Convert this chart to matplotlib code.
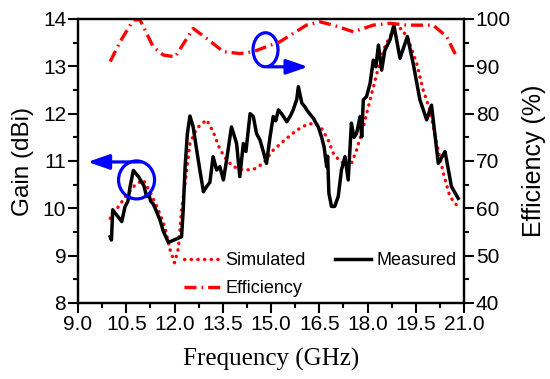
import matplotlib
matplotlib.use("Agg")
import matplotlib.pyplot as plt
from matplotlib.patches import Ellipse
from matplotlib.ticker import MultipleLocator, AutoMinorLocator

# ---- data ----
freq_meas = [10.0, 10.04, 10.08, 10.15, 10.25, 10.36, 10.46, 10.55, 10.62, 10.72,
             10.82, 10.90, 10.98, 11.05, 11.13, 11.2, 11.26, 11.33, 11.40, 11.55,
             11.65, 11.81, 12.22, 12.27, 12.33, 12.40, 12.48, 12.58, 12.69, 12.79,
             12.9, 13.0, 13.1, 13.2, 13.31, 13.41, 13.52, 13.62, 13.77, 13.85,
             13.93, 14.03, 14.14, 14.22, 14.35, 14.45, 14.55, 14.66, 14.76, 14.86,
             14.97, 15.07, 15.15, 15.23, 15.33, 15.49, 15.6, 15.69, 15.8, 15.85,
             15.96, 16.05, 16.11, 16.2, 16.32, 16.4, 16.47, 16.57, 16.65, 16.73,
             16.76, 16.8, 16.88, 16.98, 17.09, 17.19, 17.3, 17.4, 17.5, 17.58,
             17.66, 17.77, 17.82, 17.87, 17.97, 18.08, 18.18, 18.26, 18.34, 18.44,
             18.54, 18.7, 18.82, 19.01, 19.24, 19.42, 19.63, 19.84, 19.99, 20.2,
             20.41, 20.61, 20.82]
gain_meas = [9.40, 9.33, 9.97, 9.90, 9.82, 9.72, 10.03, 10.15, 10.46, 10.80,
             10.72, 10.65, 10.55, 10.48, 10.25, 10.30, 10.15, 10.10, 10.00, 9.75,
             9.52, 9.28, 9.40, 9.96, 10.88, 11.58, 11.95, 11.72, 11.23, 10.80,
             10.35, 10.46, 10.55, 11.09, 10.81, 10.88, 10.60, 11.02, 11.72, 11.55,
             11.37, 10.67, 11.37, 11.20, 12.0, 11.94, 11.58, 11.44, 11.20, 10.95,
             11.51, 11.94, 11.85, 12.08, 12.0, 11.83, 11.95, 12.08, 12.30, 12.57,
             12.22, 12.15, 12.08, 12.0, 11.9, 11.8, 11.72, 11.51, 11.30, 10.88,
             11.10, 10.32, 10.04, 10.04, 10.25, 10.81, 11.09, 10.60, 11.80, 11.50,
             11.58, 11.94, 11.51, 12.29, 12.36, 12.64, 13.13, 12.99, 13.45, 12.92,
             13.34, 13.56, 13.87, 13.17, 13.63, 13.06, 12.29, 11.87, 12.18, 10.95,
             11.20, 10.46, 10.21]

freq_sim = [10.0, 10.25, 10.51, 10.77, 11.03, 11.24, 11.5, 11.7, 11.85, 12.0,
            12.12, 12.22, 12.33, 12.48, 12.69, 13.0, 13.2, 13.41, 13.62, 13.83,
            14.14, 14.45, 14.76, 15.07, 15.49, 15.8, 16.11, 16.37, 16.57, 16.78,
            16.94, 17.15, 17.46, 17.66, 17.87, 18.08, 18.29, 18.54, 18.8, 19.06,
            19.27, 19.53, 19.73, 19.94, 20.15, 20.36, 20.56, 20.77]
gain_sim = [9.79, 10.03, 10.28, 10.49, 10.60, 10.35, 9.96, 9.61, 9.15, 8.85,
            9.15, 9.96, 10.53, 11.37, 11.69, 11.87, 11.62, 11.25, 11.02, 10.88,
            10.81, 10.82, 10.95, 11.23, 11.48, 11.65, 11.77, 11.80, 11.69, 11.44,
            11.16, 10.99, 10.88, 11.23, 11.72, 12.29, 12.85, 13.41, 13.77, 13.80,
            13.56, 13.06, 12.50, 12.08, 11.37, 10.74, 10.25, 10.07]

freq_eff = [10.0, 10.31, 10.72, 10.93, 11.34, 11.65, 12.02, 12.58, 13.0, 13.52,
            14.03, 14.45, 15.28, 16.1, 16.52, 16.94, 17.56, 18.18, 18.7, 19.22,
            20.04, 20.46, 20.77]
eff = [91.0, 95.2, 99.8, 99.8, 94.1, 92.4, 92.0, 98.0, 95.9, 93.1,
       92.7, 93.1, 95.2, 98.7, 99.4, 98.7, 97.3, 98.7, 99.1, 98.7,
       98.7, 96.3, 92.0]

x_ticks = [9.0, 10.5, 12.0, 13.5, 15.0, 16.5, 18.0, 19.5, 21.0]

# ---- figure ----
plt.rcParams['font.family'] = ['Liberation Sans', 'DejaVu Sans']
fig = plt.figure(figsize=(5.5, 3.79), dpi=100)
ax = fig.add_axes([78/550, 1-303/379, (464-78)/550, (303-19)/379])
ax2 = ax.twinx()

red = '#ff0000'
l_sim, = ax.plot(freq_sim, gain_sim, color=red, lw=2.4,
                 linestyle=(0, (0.1, 1.9)), dash_capstyle='round', label='Simulated')
l_meas, = ax.plot(freq_meas, gain_meas, color='black', lw=2.5, label='Measured')
l_eff, = ax2.plot(freq_eff, eff, color=red, lw=2.4,
                  linestyle=(0, (3.6, 1.5, 0.5, 1.5)), label='Efficiency')

ax.set_xlim(9.0, 21.0)
ax.set_ylim(8, 14)
ax2.set_ylim(40, 100)
ax.set_xticks(x_ticks)
ax.set_xticklabels([f"{v:.1f}" for v in x_ticks])
ax.xaxis.set_minor_locator(AutoMinorLocator(2))
ax.yaxis.set_major_locator(MultipleLocator(1))
ax.yaxis.set_minor_locator(AutoMinorLocator(2))
ax2.yaxis.set_major_locator(MultipleLocator(10))
ax2.yaxis.set_minor_locator(AutoMinorLocator(2))

for a in (ax, ax2):
    for s in a.spines.values():
        s.set_linewidth(1.6)
    a.tick_params(which='major', direction='out', length=7, width=1.5,
                  labelsize=15, pad=1.5)
    a.tick_params(which='minor', direction='out', length=3.5, width=1.5)
ax.tick_params(axis='both', which='both', top=False, right=False)
ax2.tick_params(axis='y', which='both', left=False, right=True)

ax.set_ylabel('Gain (dBi)', fontsize=17.5, labelpad=6)
ax2.set_ylabel('Efficiency (%)', fontsize=18, labelpad=8)
ax.set_xlabel('Frequency (GHz)', fontsize=18, family=['Liberation Serif'], labelpad=10)

# ---- annotations ----
blue = '#0000ff'
e1 = Ellipse((10.82, 10.60), width=36/32.17, height=38/47.33, fill=False,
             edgecolor=blue, lw=2.3, transform=ax.transData, zorder=5)
ax.add_patch(e1)
ax.annotate('', xy=(9.3, 10.98), xytext=(10.95, 10.98),
            arrowprops=dict(arrowstyle='-|>,head_length=1.3,head_width=0.45',
                            color=blue, lw=2.3, shrinkA=0, shrinkB=0), zorder=5)
e2 = Ellipse((14.83, 13.35), width=25/32.17, height=34/47.33, fill=False,
             edgecolor=blue, lw=2.3, transform=ax.transData, zorder=5)
ax.add_patch(e2)
ax.annotate('', xy=(16.15, 12.99), xytext=(14.9, 12.99),
            arrowprops=dict(arrowstyle='-|>,head_length=1.3,head_width=0.45',
                            color=blue, lw=2.3, shrinkA=0, shrinkB=0), zorder=5)

# ---- legend ----
leg = ax2.legend([l_sim, l_eff, l_meas], ['Simulated', 'Efficiency', 'Measured'],
                 ncol=2, frameon=False, fontsize=13, loc='upper left',
                 bbox_to_anchor=(0.275, 0.18), handlelength=2.0,
                 handletextpad=0.3, columnspacing=1.6, labelspacing=0.62,
                 borderpad=0, borderaxespad=0)

fig.savefig('out.png', dpi=100)
